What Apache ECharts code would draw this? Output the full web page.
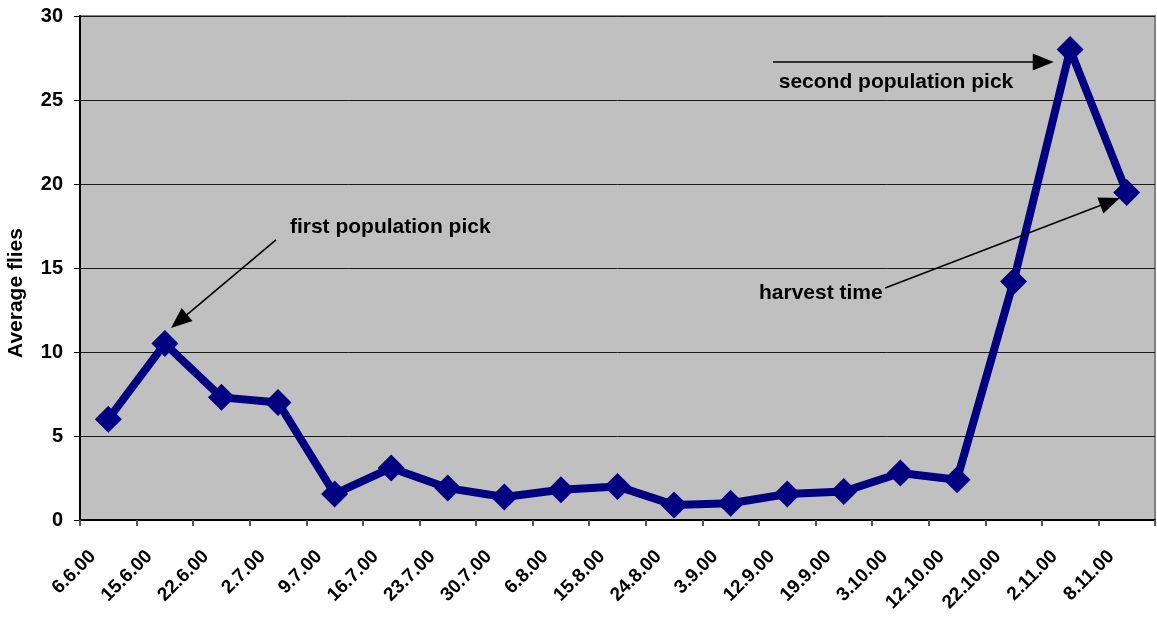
<!DOCTYPE html>
<html>
<head>
<meta charset="utf-8">
<title>Average flies</title>
<script src="https://cdn.jsdelivr.net/npm/echarts@6/dist/echarts.min.js"></script>
<style>
  html, body { margin: 0; padding: 0; background: #fff; }
  #chart { width: 1157px; height: 617px; }
</style>
</head>
<body>
<div id="chart"></div>
<script>
// Sampling dates (d.m.yy) and the mean number of flies caught
const categories = ['6.6.00', '15.6.00', '22.6.00', '2.7.00', '9.7.00', '16.7.00', '23.7.00',
  '30.7.00', '6.8.00', '15.8.00', '24.8.00', '3.9.00', '12.9.00', '19.9.00', '3.10.00',
  '12.10.00', '22.10.00', '2.11.00', '8.11.00'];
const flies = [6.0, 10.5, 7.3, 7.0, 1.55, 3.1, 1.9, 1.37, 1.8, 2.0, 0.9, 1.0, 1.55, 1.7,
  2.8, 2.4, 14.2, 28.0, 19.5];

// Y axis range and step
const yTicks = { min: 0, max: 30, step: 5 };
const yTitle = 'Average flies';

// Callout texts and arrows, in chart units (x: category slots from the left edge, y: flies)
const noteTexts = ['first population pick', 'second population pick', 'harvest time'];
const noteTextAt = [[3.71, 17.44], [12.35, 26.07], [12.0, 13.51]];
const noteArrowFrom = [[3.464, 16.67], [12.25, 27.26], [14.23, 13.81]];
const noteArrowTo = [[1.608, 11.43], [17.21, 27.26], [18.38, 19.17]];

const FONT = '"Liberation Sans", Arial, sans-serif';
const chart = echarts.init(document.getElementById('chart'), null, { renderer: 'canvas' });

chart.setOption({
  animation: false,
  backgroundColor: '#ffffff',
  grid: {
    left: 80, right: 2, top: 16, bottom: 97,
    show: true, backgroundColor: '#c0c0c0', borderColor: '#808080', borderWidth: 2
  },
  xAxis: [{
    type: 'category',
    data: categories,
    boundaryGap: true,
    axisLine: { show: true, lineStyle: { color: '#000', width: 2 } },
    axisTick: { show: true, interval: 0, length: 6, lineStyle: { color: '#555', width: 2 } },
    axisLabel: {
      interval: 0, rotate: 45, margin: 18,
      padding: [0, 22, 0, 0],
      color: '#000', fontFamily: FONT, fontWeight: 'bold', fontSize: 19
    },
    splitLine: { show: false }
  }, {
    // invisible companion axis used to place the callouts
    type: 'value', min: 0, max: categories.length, show: false
  }],
  yAxis: {
    type: 'value',
    min: yTicks.min, max: yTicks.max, interval: yTicks.step,
    axisLine: { show: true, lineStyle: { color: '#000', width: 2 } },
    axisTick: { show: true, length: 6, lineStyle: { color: '#000', width: 1 } },
    axisLabel: { color: '#000', fontFamily: FONT, fontWeight: 'bold', fontSize: 20, margin: 17 },
    splitLine: { show: true, lineStyle: { color: '#1a1a1a', width: 1 } }
  },
  series: [{
    type: 'line',
    data: flies,
    xAxisIndex: 0,
    symbol: 'diamond',
    symbolSize: 27,
    showAllSymbol: true,
    lineStyle: { color: '#000080', width: 8 },
    itemStyle: { color: '#000080' },
    z: 3
  }]
});

// Callouts: text plus a straight arrow with a filled head
function px(p) {
  return chart.convertToPixel({ xAxisIndex: 1, yAxisIndex: 0 }, p);
}
const elements = [];
for (let i = 0; i < noteTexts.length; i++) {
  const a = px(noteArrowFrom[i]);
  const b = px(noteArrowTo[i]);
  const dx = b[0] - a[0], dy = b[1] - a[1];
  const len = Math.hypot(dx, dy);
  const ux = dx / len, uy = dy / len;
  const headL = 21, headW = 8.5;
  const base = [b[0] - ux * headL, b[1] - uy * headL];
  elements.push({
    type: 'line', silent: true, z: 10,
    shape: { x1: a[0], y1: a[1], x2: base[0] + ux * 2, y2: base[1] + uy * 2 },
    style: { stroke: '#000', lineWidth: 1.6 }
  });
  elements.push({
    type: 'polygon', silent: true, z: 10,
    shape: { points: [b, [base[0] - uy * headW, base[1] + ux * headW], [base[0] + uy * headW, base[1] - ux * headW]] },
    style: { fill: '#000' }
  });
  const t = px(noteTextAt[i]);
  elements.push({
    type: 'text', silent: true, z: 11,
    x: t[0], y: t[1],
    style: {
      text: noteTexts[i], fill: '#000',
      font: 'bold 21px ' + FONT,
      align: 'left', verticalAlign: 'middle'
    }
  });
}

// Y axis title, set vertically beside the tick labels
elements.push({
  type: 'text', silent: true,
  x: 16, y: 293, rotation: Math.PI / 2,
  style: {
    text: yTitle, fill: '#000',
    font: 'bold 21px ' + FONT,
    align: 'center', verticalAlign: 'middle'
  }
});
chart.setOption({ graphic: elements });
</script>
</body>
</html>
